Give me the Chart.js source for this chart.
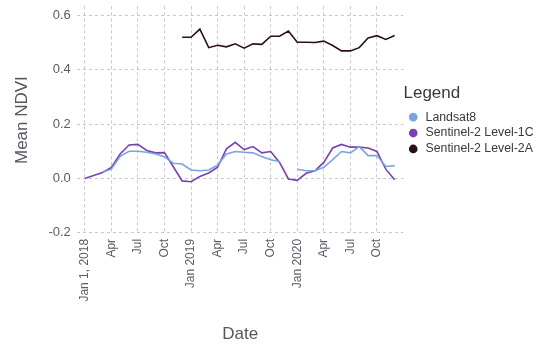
<!DOCTYPE html>
<html>
<head>
<meta charset="utf-8">
<script src="https://cdn.jsdelivr.net/npm/chart.js@4.4.1/dist/chart.umd.min.js"></script>
<style>
  html, body { margin: 0; padding: 0; background: #fff; }
  #wrap { width: 538px; height: 345px; position: relative; }
</style>
</head>
<body>
<div id="wrap"><canvas id="c" width="538" height="345"></canvas></div>
<script>
// Monthly dates (first of month)
const months = [
  '2018-01','2018-02','2018-03','2018-04','2018-05','2018-06','2018-07','2018-08','2018-09','2018-10','2018-11','2018-12',
  '2019-01','2019-02','2019-03','2019-04','2019-05','2019-06','2019-07','2019-08','2019-09','2019-10','2019-11','2019-12',
  '2020-01','2020-02','2020-03','2020-04','2020-05','2020-06','2020-07','2020-08','2020-09','2020-10','2020-11','2020-12'
];
const landsat8 = [
  null, null, 0.024, 0.034, 0.081, 0.100, 0.100, 0.096, 0.090, 0.080, 0.056, 0.053,
  0.031, 0.028, 0.031, 0.049, 0.090, 0.099, 0.096, 0.094, 0.081, 0.069, 0.062, null,
  0.034, 0.028, 0.028, 0.041, 0.069, 0.099, 0.094, 0.117, 0.084, 0.084, 0.044, 0.047
];
const sentinel1C = [
  0.000, 0.011, 0.022, 0.040, 0.090, 0.123, 0.125, 0.103, 0.094, 0.095, 0.043, -0.009,
  -0.012, 0.007, 0.020, 0.041, 0.109, 0.133, 0.106, 0.117, 0.094, 0.099, 0.059, -0.002,
  -0.007, 0.019, 0.028, 0.059, 0.112, 0.125, 0.115, 0.115, 0.112, 0.099, 0.034, -0.005
];
const sentinel2A = [
  null, null, null, null, null, null, null, null, null, null, null, 0.519,
  0.519, 0.549, 0.481, 0.490, 0.484, 0.495, 0.479, 0.495, 0.493, 0.523, 0.523, 0.542,
  0.501, 0.501, 0.500, 0.505, 0.489, 0.469, 0.469, 0.481, 0.517, 0.525, 0.511, 0.526
];
const xTickMonths = ['2018-01','2018-04','2018-07','2018-10','2019-01','2019-04','2019-07','2019-10','2020-01','2020-04','2020-07','2020-10'];
const xTickLabels = ['Jan 1, 2018','Apr','Jul','Oct','Jan 2019','Apr','Jul','Oct','Jan 2020','Apr','Jul','Oct'];
const yTicks = [0.6, 0.4, 0.2, 0.0, -0.2];

function monthPos(s) {
  const [y, m] = s.split('-').map(Number);
  return (y - 2018) * 12 + (m - 1);
}
function toPoints(arr) {
  return months.map((mo, i) => ({ x: monthPos(mo), y: arr[i] }));
}
const tickPos = xTickMonths.map(monthPos);

const textColor = '#5f5866';
const gridColor = 'rgba(176,172,198,0.7)';
const font = "'Liberation Sans', Arial, Helvetica, sans-serif";

new Chart(document.getElementById('c'), {
  type: 'line',
  data: {
    datasets: [
      { label: 'Landsat8', data: toPoints(landsat8), borderColor: '#78a4e2', backgroundColor: '#78a4e2', borderWidth: 1.6, pointRadius: 0, spanGaps: false, tension: 0 },
      { label: 'Sentinel-2 Level-1C', data: toPoints(sentinel1C), borderColor: '#7841b2', backgroundColor: '#7841b2', borderWidth: 1.6, pointRadius: 0, spanGaps: false, tension: 0 },
      { label: 'Sentinel-2 Level-2A', data: toPoints(sentinel2A), borderColor: '#2b0e20', backgroundColor: '#2b0e20', borderWidth: 1.6, pointRadius: 0, spanGaps: false, tension: 0 }
    ]
  },
  options: {
    responsive: false,
    animation: false,
    layout: { padding: { left: 12, right: 4, top: 5, bottom: 0 } },
    plugins: {
      tooltip: { enabled: false },
      legend: {
        position: 'right',
        align: 'start',
        title: { display: true, text: 'Legend', position: 'start', color: '#3d3640', font: { family: font, size: 17 }, padding: { top: 80, bottom: 2 } },
        labels: { usePointStyle: true, pointStyle: 'circle', boxWidth: 12.3, boxHeight: 5, padding: 3.6, color: '#3d3640', font: { family: font, size: 12.3 } }
      }
    },
    scales: {
      x: {
        type: 'linear',
        min: -0.9,
        max: 36,
        afterBuildTicks: (axis) => { axis.ticks = tickPos.map(v => ({ value: v })); },
        ticks: {
          autoSkip: false,
          minRotation: 90,
          maxRotation: 90,
          padding: 5,
          color: textColor,
          font: { family: font, size: 12 },
          callback: (v) => { const i = tickPos.indexOf(v); return i >= 0 ? xTickLabels[i] : ''; }
        },
        grid: { color: gridColor, lineWidth: 1, drawTicks: false },
        border: { display: false, dash: [3, 3] },
        title: { display: true, text: 'Date', color: '#5a5360', font: { family: font, size: 17 }, padding: { top: 18, bottom: 0 } }
      },
      y: {
        min: -0.204,
        max: 0.633,
        afterBuildTicks: (axis) => { axis.ticks = yTicks.map(v => ({ value: v })); },
        ticks: {
          padding: 6,
          color: textColor,
          font: { family: font, size: 13, lineHeight: 0.05 },
          callback: (v) => v.toFixed(1)
        },
        grid: { color: gridColor, lineWidth: 1, drawTicks: false },
        border: { display: false, dash: [3, 3] },
        title: { display: true, text: 'Mean NDVI', color: '#5a5360', font: { family: font, size: 17 }, padding: { top: 0, bottom: 10 } }
      }
    }
  }
});
</script>
</body>
</html>
